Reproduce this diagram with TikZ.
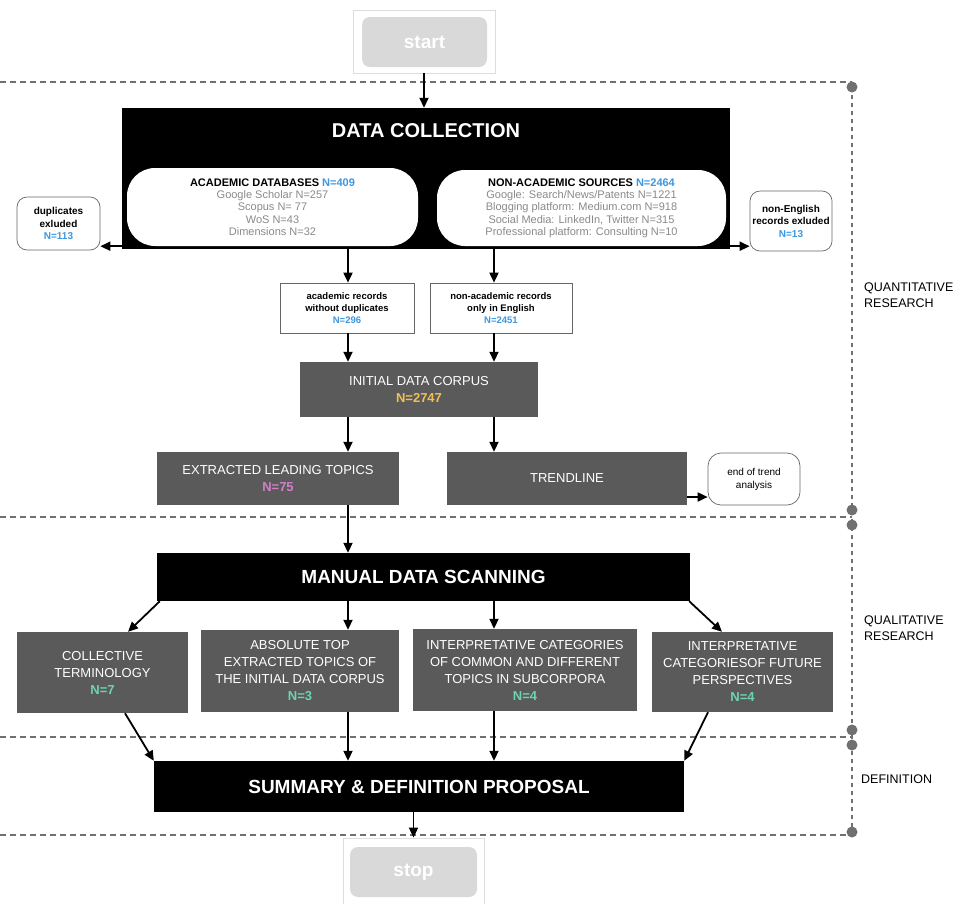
\documentclass[tikz,border=0pt]{standalone}
\usepackage{fontspec}
\setmainfont{Liberation Sans}
\usetikzlibrary{arrows.meta}
\definecolor{nblue}{HTML}{3C97E0}
\definecolor{nyellow}{HTML}{F0C050}
\definecolor{npink}{HTML}{D17FC8}
\definecolor{nteal}{HTML}{6DD3B4}
\definecolor{boxgray}{HTML}{5A5A5A}
\definecolor{ltext}{HTML}{8A8A8A}
\definecolor{sepgray}{HTML}{707070}
\definecolor{framegray}{HTML}{DDDDDD}
\definecolor{startgray}{HTML}{D9D9D9}
\definecolor{edgegray}{HTML}{666666}
\begin{document}
\begin{tikzpicture}[x=1pt,y=-1pt,
  box/.style={rectangle, inner sep=0pt, align=center, anchor=center},
  darkbox/.style={box, fill=boxgray, text=white, font=\fontsize{13}{17}\selectfont},
  blackbox/.style={box, fill=black, text=white, font=\fontsize{19}{22}\selectfont\bfseries},
  roundbox/.style={box, fill=white, draw=edgegray, line width=0.7pt, rounded corners=10pt, font=\fontsize{10}{12.5}\selectfont\bfseries},
  whitebox/.style={box, fill=white, draw=edgegray, line width=0.7pt, font=\fontsize{9.5}{12.3}\selectfont\bfseries},
  srcbox/.style={box, fill=white, rounded corners=28pt, font=\fontsize{11}{12.3}\selectfont},
  termframe/.style={box, draw=framegray, line width=0.8pt},
  termin/.style={box, fill=startgray, rounded corners=8pt, text=white, font=\fontsize{19}{22}\selectfont\bfseries},
  sidelabel/.style={anchor=west, align=left, inner sep=0pt, font=\fontsize{12.5}{16}\selectfont},
  arr/.style={-{Triangle[length=10pt,width=9pt]}, line width=1.8pt},
  sep/.style={draw=sepgray, line width=2.2pt, dash pattern=on 5.5pt off 4.5pt},
  vsep/.style={draw=sepgray, line width=2.4pt, dash pattern=on 4pt off 4pt},
]
\useasboundingbox (0,0) rectangle (963,903);

% section separators
\draw[sep] (0,82) -- (852,82);
\draw[sep] (0,517) -- (852,517);
\draw[sep] (0,737) -- (852,737);
\draw[sep] (0,835) -- (852,835);
\draw[vsep] (852,87) -- (852,832);
\foreach \yy in {87,510,525,730,745,832} \fill[sepgray] (852,\yy) circle (5.5pt);

% side labels
\node[sidelabel] (lquant) at (864,295) {QUANTITATIVE\\RESEARCH};
\node[sidelabel] (lqual) at (864,628) {QUALITATIVE\\RESEARCH};
\node[sidelabel] (ldef) at (861,779) {DEFINITION};

% start
\node[termframe, minimum width=142pt, minimum height=63pt] (startframe) at (424,41.5) {};
\node[termin, minimum width=125pt, minimum height=50pt] (startin) at (424.5,42) {start};

% data collection
\node[box, fill=black, minimum width=608pt, minimum height=141pt] (dc) at (426,178.5) {};
\node[box, text=white, font=\fontsize{20}{24}\selectfont\bfseries] (dctitle) at (426,131) {DATA COLLECTION};
\node[srcbox, minimum width=291pt, minimum height=78pt] (acad) at (272.5,207)
 {\textbf{ACADEMIC DATABASES \textcolor{nblue}{N=409}}\\
  \textcolor{ltext}{Google Scholar N=257}\\
  \textcolor{ltext}{Scopus N= 77}\\
  \textcolor{ltext}{WoS N=43}\\
  \textcolor{ltext}{Dimensions N=32}};
\node[srcbox, minimum width=289pt, minimum height=76pt] (nonacad) at (581.5,208)
 {\textbf{NON-ACADEMIC SOURCES \textcolor{nblue}{N=2464}}\\
  \textcolor{ltext}{Google: Search/News/Patents N=1221}\\
  \textcolor{ltext}{Blogging platform: Medium.com N=918}\\
  \textcolor{ltext}{Social Media: LinkedIn, Twitter N=315}\\
  \textcolor{ltext}{Professional platform: Consulting N=10}};

\node[roundbox, minimum width=83pt, minimum height=53pt] (dup) at (58.5,223.5)
 {duplicates\\exluded\\\textcolor{nblue}{N=113}};
\node[roundbox, minimum width=82pt, minimum height=60pt] (noneng) at (791,221)
 {non-English\\records exluded\\\textcolor{nblue}{N=13}};

\node[whitebox, minimum width=134pt, minimum height=50pt] (acrec) at (347,308)
 {academic records\\without duplicates\\\textcolor{nblue}{N=296}};
\node[whitebox, minimum width=142pt, minimum height=50pt] (narec) at (501,308)
 {non-academic records\\only in English\\\textcolor{nblue}{N=2451}};

\node[darkbox, minimum width=238pt, minimum height=55pt] (init) at (419,389.5)
 {INITIAL DATA CORPUS\\\textbf{\textcolor{nyellow}{N=2747}}};

\node[darkbox, minimum width=242pt, minimum height=53pt] (ext) at (278,478.5)
 {EXTRACTED LEADING TOPICS\\\textbf{\textcolor{npink}{N=75}}};
\node[darkbox, minimum width=240pt, minimum height=53pt] (trend) at (567,478.5) {TRENDLINE};
\node[roundbox, rounded corners=13pt, minimum width=92pt, minimum height=52pt, font=\fontsize{10}{13}\selectfont] (eot) at (754,479)
 {end of trend\\analysis};

\node[blackbox, minimum width=533pt, minimum height=48pt] (manual) at (423.5,577) {MANUAL DATA SCANNING};

\node[darkbox, minimum width=171pt, minimum height=81pt] (coll) at (102.5,672.5)
 {COLLECTIVE\\TERMINOLOGY\\\textbf{\textcolor{nteal}{N=7}}};
\node[darkbox, minimum width=198pt, minimum height=82pt] (abs) at (300,671)
 {ABSOLUTE TOP\\EXTRACTED TOPICS OF\\THE INITIAL DATA CORPUS\\\textbf{\textcolor{nteal}{N=3}}};
\node[darkbox, minimum width=224pt, minimum height=82pt] (icom) at (525,670)
 {INTERPRETATIVE CATEGORIES\\OF COMMON AND DIFFERENT\\TOPICS IN SUBCORPORA\\\textbf{\textcolor{nteal}{N=4}}};
\node[darkbox, minimum width=181pt, minimum height=80pt] (ifut) at (742.5,672)
 {INTERPRETATIVE\\CATEGORIESOF FUTURE\\PERSPECTIVES\\\textbf{\textcolor{nteal}{N=4}}};

\node[blackbox, minimum width=530pt, minimum height=51pt] (summ) at (419,786.5) {SUMMARY \& DEFINITION PROPOSAL};

% stop
\node[termframe, minimum width=141pt, minimum height=74pt] (stopframe) at (413.5,875) {};
\node[termin, minimum width=127pt, minimum height=50pt] (stopin) at (413.5,872) {stop};

% column guides
\coordinate (cl) at (348,0);
\coordinate (cr) at (494,0);

% connectors
\draw[arr] (startframe.south) -- (startframe.south |- dc.north);
\draw[arr] ([yshift=3pt]dc.south west) -- ([yshift=3pt]dc.south west -| dup.east);
\draw[arr] ([yshift=3pt]dc.south east) -- ([yshift=3pt]dc.south east -| noneng.west);
\draw[arr] (cl |- dc.south) -- (cl |- acrec.north);
\draw[arr] (cr |- dc.south) -- (cr |- narec.north);
\draw[arr] (cl |- acrec.south) -- (cl |- init.north);
\draw[arr] (cr |- narec.south) -- (cr |- init.north);
\draw[arr] (cl |- init.south) -- (cl |- ext.north);
\draw[arr] (cr |- init.south) -- (cr |- trend.north);
\draw[arr] ([yshift=-18.5pt]trend.east) -- ([yshift=-18.5pt]trend.east -| eot.west);
\draw[arr] (cl |- ext.south) -- (cl |- manual.north);
\draw[arr] ([xshift=3pt]manual.south west) -- ([xshift=25.5pt]coll.north);
\draw[arr] (cl |- manual.south) -- (cl |- abs.north);
\draw[arr] (cr |- manual.south) -- (cr |- icom.north);
\draw[arr] ([xshift=-1pt]manual.south east) -- ([xshift=-20.5pt]ifut.north);
\draw[arr] ([xshift=22.5pt]coll.south) -- (summ.north west);
\draw[arr] (cl |- abs.south) -- (cl |- summ.north);
\draw[arr] (cr |- icom.south) -- (cr |- summ.north);
\draw[arr] ([xshift=-34.5pt]ifut.south) -- (summ.north east);
\draw[arr] (stopin.north |- summ.south) -- (stopin.north |- stopframe.north);
\end{tikzpicture}
\end{document}
